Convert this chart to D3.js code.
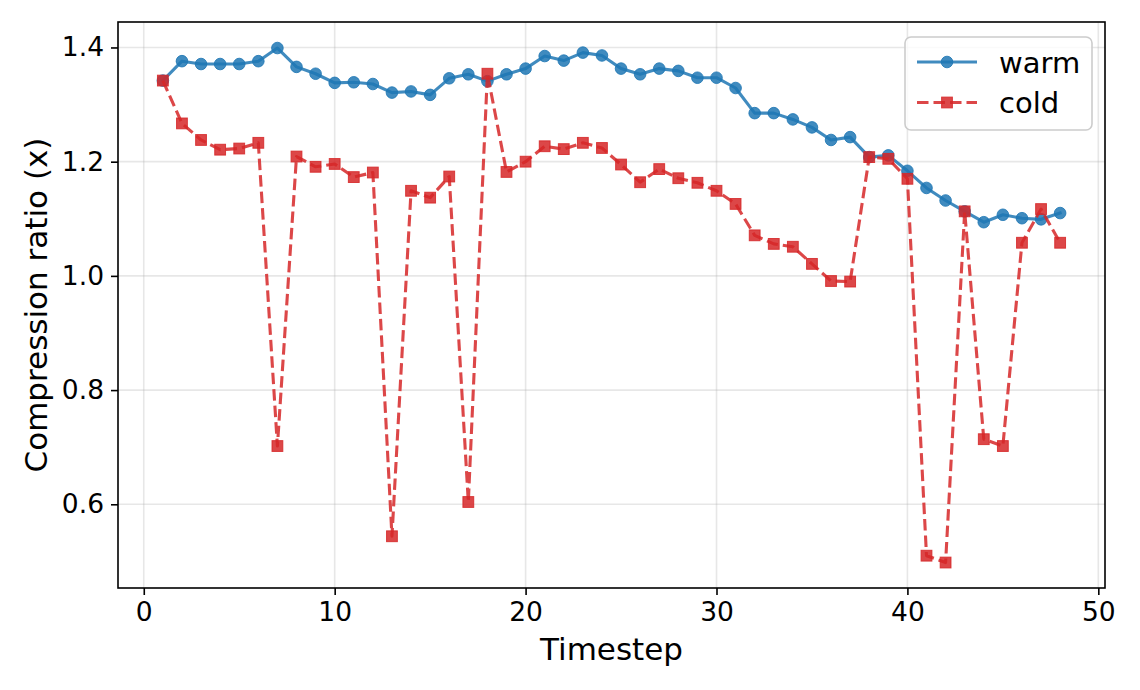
<!DOCTYPE html>
<html>
<head>
<meta charset="utf-8">
<script src="https://cdn.jsdelivr.net/npm/d3@7"></script>
<style>
  html, body { margin: 0; padding: 0; background: #fff; }
  svg { display: block; font-family: "DejaVu Sans", sans-serif; }
</style>
</head>
<body>
<svg id="chart" width="1140" height="690"></svg>
<script>
const timesteps = [1,2,3,4,5,6,7,8,9,10,11,12,13,14,15,16,17,18,19,20,21,22,23,24,25,26,27,28,29,30,31,32,33,34,35,36,37,38,39,40,41,42,43,44,45,46,47,48];
const warm = [1.342,1.376,1.371,1.371,1.371,1.376,1.399,1.366,1.354,1.338,
              1.339,1.336,1.321,1.323,1.317,1.346,1.353,1.341,1.353,1.363,
              1.385,1.377,1.391,1.386,1.363,1.353,1.363,1.359,1.347,1.347,
              1.329,1.285,1.285,1.274,1.260,1.238,1.243,1.208,1.211,1.184,
              1.154,1.132,1.113,1.094,1.107,1.101,1.099,1.110];
const cold = [1.342,1.267,1.238,1.221,1.223,1.233,0.702,1.209,1.191,1.196,
              1.173,1.181,0.544,1.149,1.137,1.174,0.604,1.354,1.182,1.200,
              1.227,1.222,1.233,1.224,1.195,1.164,1.187,1.171,1.163,1.149,
              1.126,1.071,1.056,1.051,1.021,0.991,0.990,1.208,1.205,1.170,
              0.510,0.498,1.113,0.714,0.702,1.058,1.117,1.058];
const xTicks = [0,10,20,30,40,50];
const yTicks = [0.6,0.8,1.0,1.2,1.4];
const seriesNames = ["warm","cold"];
const xLabel = "Timestep";
const yLabel = "Compression ratio (x)";

const svg = d3.select("#chart");
const L = 118, R = 1105, T = 22, B = 588;
const x = d3.scaleLinear().domain([-1.35, 50.35]).range([L, R]);
const y = d3.scaleLinear().domain([0.4534, 1.4446]).range([B, T]);

const blue = "#1f77b4", red = "#d62728", alpha = 0.85;

// grid
const grid = svg.append("g");
grid.selectAll("line.gx").data(xTicks).join("line")
  .attr("x1", d => x(d)).attr("x2", d => x(d)).attr("y1", T).attr("y2", B)
  .attr("stroke", "#b0b0b0").attr("stroke-opacity", 0.3).attr("stroke-width", 1.6);
grid.selectAll("line.gy").data(yTicks).join("line")
  .attr("y1", d => y(d)).attr("y2", d => y(d)).attr("x1", L).attr("x2", R)
  .attr("stroke", "#b0b0b0").attr("stroke-opacity", 0.3).attr("stroke-width", 1.6);

// axes
const xAxis = d3.axisBottom(x).tickValues(xTicks).tickFormat(d3.format("d")).tickSize(7).tickPadding(7);
const yAxis = d3.axisLeft(y).tickValues(yTicks).tickFormat(d3.format(".1f")).tickSize(7).tickPadding(7);
const gx = svg.append("g").attr("transform", `translate(0,${B})`).call(xAxis);
const gy = svg.append("g").attr("transform", `translate(${L},0)`).call(yAxis);
[gx, gy].forEach(g => {
  g.select(".domain").remove();
  g.selectAll(".tick line").attr("stroke", "#000").attr("stroke-width", 1.6);
  g.selectAll(".tick text").attr("fill", "#000").style("font-size", "26.5px").style("font-family", "DejaVu Sans");
});

// lines
const data = timesteps.map((t, i) => ({t, w: warm[i], c: cold[i]}));
const lineW = d3.line().x(d => x(d.t)).y(d => y(d.w));
const lineC = d3.line().x(d => x(d.t)).y(d => y(d.c));

svg.append("path").datum(data).attr("d", lineW)
  .attr("fill", "none").attr("stroke", blue).attr("stroke-opacity", alpha)
  .attr("stroke-width", 3.1).attr("stroke-linejoin", "round").attr("stroke-linecap", "square");
svg.append("g").selectAll("circle").data(data).join("circle")
  .attr("cx", d => x(d.t)).attr("cy", d => y(d.w)).attr("r", 5.8)
  .attr("fill", blue).attr("fill-opacity", alpha)
  .attr("stroke", blue).attr("stroke-opacity", alpha).attr("stroke-width", 1);

svg.append("path").datum(data).attr("d", lineC)
  .attr("fill", "none").attr("stroke", red).attr("stroke-opacity", alpha)
  .attr("stroke-width", 3.1).attr("stroke-dasharray", "11.5,5")
  .attr("stroke-linejoin", "round");
svg.append("g").selectAll("rect").data(data).join("rect")
  .attr("x", d => x(d.t) - 5.4).attr("y", d => y(d.c) - 5.4)
  .attr("width", 10.8).attr("height", 10.8)
  .attr("fill", red).attr("fill-opacity", alpha)
  .attr("stroke", red).attr("stroke-opacity", alpha).attr("stroke-width", 1);

// frame
svg.append("rect").attr("x", L).attr("y", T).attr("width", R - L).attr("height", B - T)
  .attr("fill", "none").attr("stroke", "#000").attr("stroke-width", 1.6);

// labels
svg.append("text").attr("x", (L + R) / 2).attr("y", 660).attr("text-anchor", "middle")
  .style("font-size", "31px").attr("fill", "#000").text(xLabel);
svg.append("text").attr("transform", `translate(47,${(T + B) / 2}) rotate(-90)`)
  .attr("text-anchor", "middle").style("font-size", "31px").attr("fill", "#000").text(yLabel);

// legend
const lg = svg.append("g");
lg.append("rect").attr("x", 905).attr("y", 37).attr("width", 187).attr("height", 93)
  .attr("rx", 6).attr("fill", "#fff").attr("fill-opacity", 0.8)
  .attr("stroke", "#cccccc").attr("stroke-width", 1.6);
const legendY = [62, 102.5];
// warm
lg.append("line").attr("x1", 917).attr("x2", 977).attr("y1", legendY[0]).attr("y2", legendY[0])
  .attr("stroke", blue).attr("stroke-opacity", alpha).attr("stroke-width", 3.1);
lg.append("circle").attr("cx", 947).attr("cy", legendY[0]).attr("r", 5.8)
  .attr("fill", blue).attr("fill-opacity", alpha).attr("stroke", blue).attr("stroke-opacity", alpha);
// cold
lg.append("line").attr("x1", 917).attr("x2", 977).attr("y1", legendY[1]).attr("y2", legendY[1])
  .attr("stroke", red).attr("stroke-opacity", alpha).attr("stroke-width", 3.1).attr("stroke-dasharray", "11.5,5");
lg.append("rect").attr("x", 947 - 5.4).attr("y", legendY[1] - 5.4).attr("width", 10.8).attr("height", 10.8)
  .attr("fill", red).attr("fill-opacity", alpha).attr("stroke", red).attr("stroke-opacity", alpha);
lg.selectAll("text.lt").data(seriesNames).join("text")
  .attr("x", 999).attr("y", (d, i) => legendY[i] + 10.5)
  .style("font-size", "29px").attr("fill", "#000").text(d => d);
</script>
</body>
</html>
